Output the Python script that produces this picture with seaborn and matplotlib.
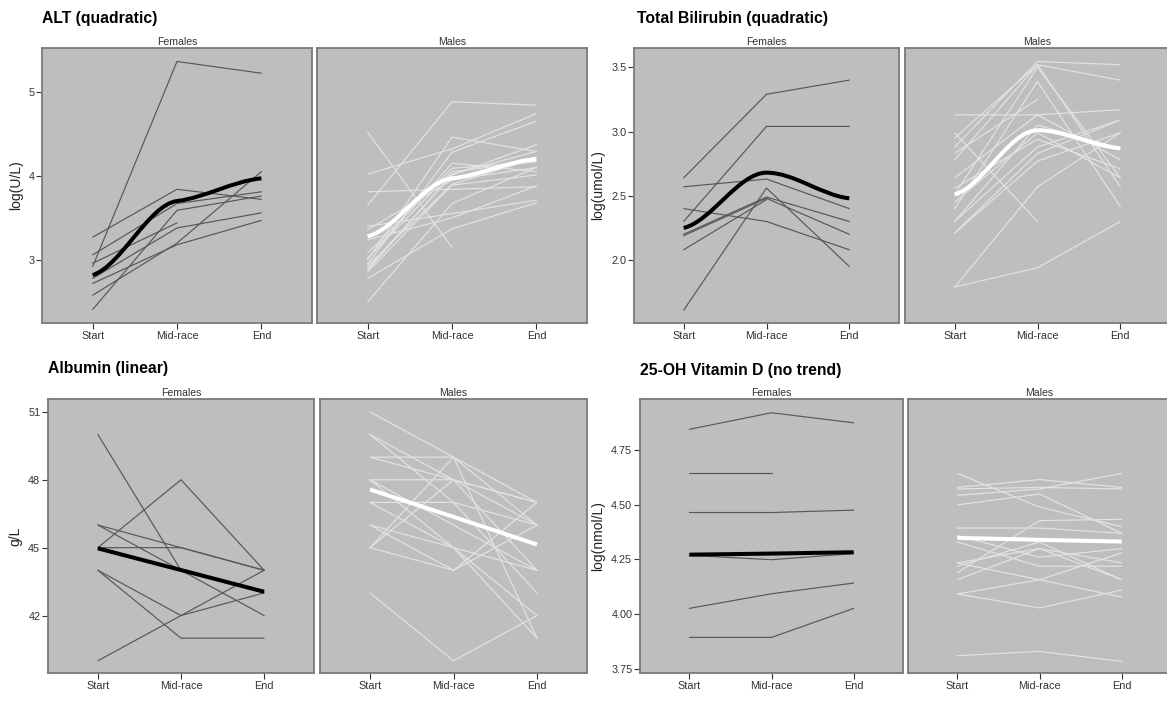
import numpy as np
import pandas as pd
import matplotlib
matplotlib.use("Agg")
import matplotlib.pyplot as plt
from matplotlib.path import Path
from matplotlib.patches import PathPatch
import seaborn as sns

nan = np.nan
timepoints = ["Start", "Mid-race", "End"]

# ---------------- data ----------------
alt_females = [
    [2.92, 5.36, 5.22], [3.27, 3.84, 3.72], [3.06, 3.67, 3.81], [2.96, 3.44, nan],
    [2.78, 3.38, 3.56], [2.72, 3.18, 3.47], [2.58, 3.20, 4.05], [2.41, 3.59, 3.76],
]
alt_males = [
    [4.52, 3.15, nan], [3.65, 4.88, 4.84], [4.02, 4.32, 4.74], [3.00, 4.46, 4.29],
    [2.95, 4.28, 4.65], [3.81, 3.84, 3.87], [3.40, 3.55, 3.71], [3.36, 3.95, 4.10],
    [2.78, 3.37, 3.68], [2.50, 3.67, 4.10], [3.08, 4.09, 4.17], [3.02, 4.05, 4.17],
    [2.90, 4.01, 4.37], [2.86, 3.89, 4.01], [3.02, 4.15, 4.05], [2.93, 3.90, 4.21],
    [3.24, 3.50, 3.88], [2.88, 4.02, 4.29],
]
alt_fit_females = [2.82, 3.70, 3.97]
alt_fit_males = [3.28, 3.97, 4.20]

bili_females = [
    [2.64, 3.29, 3.40], [2.30, 3.04, 3.04], [2.57, 2.63, 2.40], [1.61, 2.56, 1.95],
    [2.40, 2.30, 2.08], [2.20, 2.49, 2.30], [2.19, 2.48, 2.20], [2.08, 2.47, nan],
]
bili_males = [
    [3.13, 3.13, 3.17], [2.99, 2.30, nan], [2.88, 3.545, 3.52], [2.95, 3.52, 3.40],
    [2.83, 3.25, nan], [2.78, 3.52, 2.57], [2.64, 3.13, 2.78], [2.56, 2.94, 2.71],
    [2.40, 3.39, 2.415], [2.30, 2.88, 3.09], [2.21, 2.77, 2.99], [1.79, 2.57, 2.99],
    [1.79, 1.94, 2.30], [2.45, 2.99, 2.64], [2.30, 3.05, 2.87], [2.21, 2.83, 3.09],
    [2.51, 3.50, 2.64],
]
bili_fit_females = [2.25, 2.68, 2.48]
bili_fit_males = [2.51, 3.01, 2.87]

alb_females = [
    [50, 44, 43], [45, 48, 44], [46, 45, 44], [46, 44, 42],
    [44, 42, 43], [44, 41, 41], [40, 42, 44], [45, 45, 44],
]
alb_males = [
    [51, 49, 47], [50, 48, 46], [50, 47, 43], [49, 49, 41], [49, 48, 47],
    [48, 48, 47], [48, 46, 44], [47, 47, 46], [47, 45, 42], [46, 45, 44],
    [45, 49, 46], [45, 44, 46], [46, 44, 47], [43, 40, 42], [45, 48, 44],
    [48, 45, 41],
]
alb_fit_females = [44.97, 44.01, 43.05]
alb_fit_males = [47.57, 46.36, 45.14]

vitd_females = [
    [4.846, 4.922, 4.876], [4.644, 4.644, nan], [4.465, 4.465, 4.476],
    [4.269, 4.249, 4.277], [4.026, 4.093, 4.142], [3.893, 3.893, 4.026],
]
vitd_males = [
    [3.809, 3.829, 3.783], [4.644, 4.49, 4.40], [4.58, 4.616, 4.58],
    [4.573, 4.58, 4.573], [4.544, 4.573, 4.644], [4.50, 4.55, 4.37],
    [4.394, 4.394, 4.37], [4.33, 4.219, 4.219], [4.234, 4.30, 4.157],
    [4.219, 4.33, 4.157], [4.19, 4.428, 4.434], [4.157, 4.30, 4.234],
    [4.092, 4.157, 4.28], [4.092, 4.028, 4.11], [4.234, 4.157, 4.078],
    [4.36, 4.26, 4.30],
]
vitd_fit_females = [4.272, 4.277, 4.283]
vitd_fit_males = [4.349, 4.340, 4.332]

panels = [
    dict(title="ALT (quadratic)", ylabel="log(U/L)", females=alt_females, males=alt_males,
         fit_f=alt_fit_females, fit_m=alt_fit_males, smooth=True,
         yticks=[3, 4, 5], yticklabels=["3", "4", "5"], ylim=(2.25, 5.52)),
    dict(title="Total Bilirubin (quadratic)", ylabel="log(umol/L)", females=bili_females, males=bili_males,
         fit_f=bili_fit_females, fit_m=bili_fit_males, smooth=True,
         yticks=[2.0, 2.5, 3.0, 3.5], yticklabels=["2.0", "2.5", "3.0", "3.5"], ylim=(1.51, 3.65)),
    dict(title="Albumin (linear)", ylabel="g/L", females=alb_females, males=alb_males,
         fit_f=alb_fit_females, fit_m=alb_fit_males, smooth=False,
         yticks=[42, 45, 48, 51], yticklabels=["42", "45", "48", "51"], ylim=(39.46, 51.57)),
    dict(title="25-OH Vitamin D (no trend)", ylabel="log(nmol/L)", females=vitd_females, males=vitd_males,
         fit_f=vitd_fit_females, fit_m=vitd_fit_males, smooth=False,
         yticks=[3.75, 4.00, 4.25, 4.50, 4.75], yticklabels=["3.75", "4.00", "4.25", "4.50", "4.75"],
         ylim=(3.73, 4.985)),
]

# ---------------- layout (pixels) ----------------
W, H = 1167, 701
sns.set_theme(style="white")
plt.rcParams["font.family"] = ["Liberation Sans", "DejaVu Sans"]

fig = plt.figure(figsize=(W / 100, H / 100), dpi=100)
fig.patch.set_facecolor("white")

# (females_left, females_right, males_left, males_right, top, bottom, title_x, title_y)
boxes = [
    (42, 312, 317, 587, 48, 323, 42, 18),
    (634, 899, 905, 1170, 48, 323, 637, 18),
    (48, 314, 320, 587, 399, 673, 48, 369),
    (640, 903, 908, 1171, 399, 673, 640, 371),
]

BG = "#bebebe"
EDGE = "#7a7a7a"
TXT = "#333333"


def add_ax(l, r, t, b):
    return fig.add_axes([l / W, 1 - b / H, (r - l) / W, (b - t) / H])


def long_df(rows):
    recs = []
    for sid, row in enumerate(rows):
        for ti, v in enumerate(row):
            if not np.isnan(v):
                recs.append(dict(subject=sid, time=ti, value=v))
    return pd.DataFrame(recs)


def draw_fit(ax, vals, color, smooth):
    xs = np.arange(len(vals), dtype=float)
    ys = np.asarray(vals, dtype=float)
    if not smooth:
        ax.plot(xs, ys, color=color, lw=2.9, solid_capstyle="butt", zorder=5)
        return
    d = np.diff(ys)
    m = np.zeros(len(ys))
    m[0] = 0.35 * d[0]
    m[-1] = 0.35 * d[-1]
    for i in range(1, len(ys) - 1):
        if d[i - 1] * d[i] > 0:
            m[i] = 0.3 * 2 * d[i - 1] * d[i] / (d[i - 1] + d[i])
    verts = [(xs[0], ys[0])]
    codes = [Path.MOVETO]
    for i in range(len(ys) - 1):
        verts += [(xs[i] + 1 / 3, ys[i] + m[i] / 3),
                  (xs[i + 1] - 1 / 3, ys[i + 1] - m[i + 1] / 3),
                  (xs[i + 1], ys[i + 1])]
        codes += [Path.CURVE4] * 3
    ax.add_patch(PathPatch(Path(verts, codes), fill=False, edgecolor=color, lw=2.9,
                           capstyle="butt", zorder=5))


for p, (fl, fr, ml, mr, top, bot, tx, ty) in zip(panels, boxes):
    for sex, (l, r) in (("Females", (fl, fr)), ("Males", (ml, mr))):
        ax = add_ax(l, r, top, bot)
        ax.set_facecolor(BG)
        rows = p["females"] if sex == "Females" else p["males"]
        lcol = "#575757" if sex == "Females" else "#e3e3e3"
        fcol = "black" if sex == "Females" else "white"
        df = long_df(rows)
        sns.lineplot(data=df, x="time", y="value", units="subject", estimator=None,
                     color=lcol, lw=0.85, ax=ax, legend=False)
        draw_fit(ax, p["fit_f"] if sex == "Females" else p["fit_m"], fcol, p["smooth"])
        ax.set_xlim(-0.6, 2.6)
        ax.set_ylim(*p["ylim"])
        ax.set_xticks(range(3))
        ax.set_xticklabels(timepoints)
        ax.set_xlabel("")
        ax.tick_params(axis="x", direction="out", length=4, width=0.8, color=TXT,
                       labelsize=7.8, labelcolor=TXT, pad=1.5, bottom=True)
        if sex == "Females":
            ax.set_yticks(p["yticks"])
            ax.set_yticklabels(p["yticklabels"])
            ax.tick_params(axis="y", direction="out", length=4, width=0.8, color=TXT,
                           labelsize=7.8, labelcolor=TXT, pad=1.5, left=True)
            ax.set_ylabel(p["ylabel"], fontsize=10, color="#222222", labelpad=4)
        else:
            ax.set_yticks([])
            ax.set_ylabel("")
        for s in ax.spines.values():
            s.set_color(EDGE)
            s.set_linewidth(1.3)
            s.set_visible(True)
        ax.set_title(sex, fontsize=7.6, color=TXT, pad=2.5)
    fig.text(tx / W, 1 - ty / H, p["title"], fontsize=11.3, fontweight="bold",
             ha="left", va="center", color="black")

fig.savefig("out.png", dpi=100, facecolor="white")
